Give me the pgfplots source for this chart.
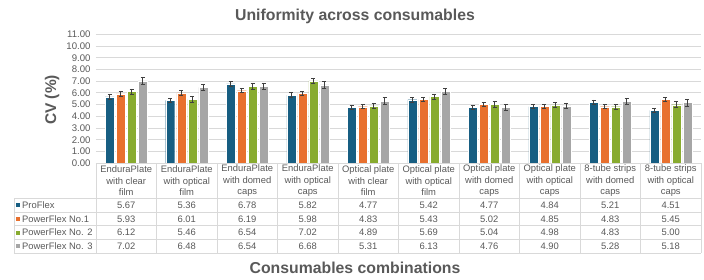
\documentclass[border=0pt]{standalone}
\usepackage{pgfplots}
\pgfplotsset{compat=1.18}
\usepackage{pgfplotstable}
\usepackage{fontspec}
\setmainfont{Liberation Sans}
\definecolor{cPF}{HTML}{175E82}
\definecolor{cP1}{HTML}{E8702E}
\definecolor{cP2}{HTML}{88AB2F}
\definecolor{cP3}{HTML}{A6A6A6}
\definecolor{txt}{HTML}{595959}
\definecolor{grd}{HTML}{D9D9D9}
\definecolor{errc}{HTML}{404040}

\pgfplotstableread{
x pf epf p1 ep1 p2 ep2 p3 ep3
0 5.67 0.18 5.93 0.18 6.12 0.22 7.02 0.28
1 5.36 0.20 6.01 0.18 5.46 0.25 6.48 0.28
2 6.78 0.20 6.19 0.18 6.54 0.25 6.54 0.25
3 5.82 0.20 5.98 0.18 7.02 0.22 6.68 0.28
4 4.77 0.20 4.83 0.18 4.89 0.22 5.31 0.30
5 5.42 0.20 5.43 0.18 5.69 0.22 6.13 0.25
6 4.77 0.18 5.02 0.18 5.04 0.25 4.76 0.28
7 4.84 0.18 4.85 0.15 4.98 0.22 4.90 0.25
8 5.21 0.20 4.83 0.18 4.83 0.22 5.28 0.25
9 4.51 0.20 5.45 0.15 5.00 0.25 5.18 0.30
}\data

\newcommand{\tfont}{\fontsize{9.4}{11.7}\selectfont}

\begin{document}
\begin{tikzpicture}
\path[use as bounding box] (-96pt,-116.7pt) rectangle (608pt,163.3pt);
\begin{axis}[
  at={(0,0)}, anchor=south west,
  scale only axis, width=605pt, height=129pt,
  xmin=-0.5, xmax=9.5, ymin=0, ymax=11,
  ytick={0,1,...,11}, xtick=\empty,
  /pgf/number format/fixed, /pgf/number format/fixed zerofill, /pgf/number format/precision=2,
  /pgf/number format/assume math mode=true,
  tick label style={font=\fontsize{9.6}{10}\selectfont, text=txt},
  yticklabel style={xshift=-2pt},
  axis line style={draw=none},
  major tick length=0pt,
  ymajorgrids, grid style={grd, line width=0.9pt},
  ybar=2pt, bar width=9pt,
  clip=false,
  error bars/error bar style={errc, line width=0.7pt},
  error bars/error mark options={errc, rotate=90, mark size=2.2pt, line width=0.7pt},
]
\addplot[fill=cPF, draw=white, line width=0.3pt, error bars/.cd, y dir=both, y explicit] table[x=x, y=pf, y error=epf]{\data};
\addplot[fill=cP1, draw=white, line width=0.3pt, error bars/.cd, y dir=both, y explicit] table[x=x, y=p1, y error=ep1]{\data};
\addplot[fill=cP2, draw=white, line width=0.3pt, error bars/.cd, y dir=both, y explicit] table[x=x, y=p2, y error=ep2]{\data};
\addplot[fill=cP3, draw=white, line width=0.3pt, error bars/.cd, y dir=both, y explicit] table[x=x, y=p3, y error=ep3]{\data};
\end{axis}

% title and labels
\node[font=\bfseries\fontsize{15.8}{17}\selectfont, text=txt] at (259pt,147.3pt) {Uniformity across consumables};
\node[font=\bfseries\fontsize{15.8}{17}\selectfont, text=txt] at (259pt,-105pt) {Consumables combinations};
\node[font=\bfseries\fontsize{15.5}{17}\selectfont, text=txt, rotate=90] at (-44pt,63.3pt) {CV (\%)};

% table grid
\foreach \i in {0,...,10} \draw[grd, line width=0.8pt] (\i*60.5pt,0pt) -- (\i*60.5pt,-89.8pt);
\draw[grd, line width=0.8pt] (0pt,0pt) -- (605pt,0pt);
\foreach \yy in {-35,-48.7,-62.4,-76.1,-89.8} \draw[grd, line width=0.8pt] (-82pt,\yy pt) -- (605pt,\yy pt);
\draw[grd, line width=0.8pt] (-82pt,-35pt) -- (-82pt,-89.8pt);

% header
\foreach \t [count=\i from 0] in {
  {EnduraPlate\\with clear\\film},
  {EnduraPlate\\with optical\\film},
  {EnduraPlate\\with domed\\caps},
  {EnduraPlate\\with optical\\caps},
  {Optical plate\\with clear\\film},
  {Optical plate\\with optical\\film},
  {Optical plate\\with domed\\caps},
  {Optical plate\\with optical\\caps},
  {8-tube strips\\with domed\\caps},
  {8-tube strips\\with optical\\caps}}
  \node[align=center, font=\tfont, text=txt, inner sep=0pt] at ({(\i+0.5)*60.5pt},-17.5pt) {\t};

% rows
\foreach \v [count=\i from 0] in {5.67,5.36,6.78,5.82,4.77,5.42,4.77,4.84,5.21,4.51}
  \node[font=\tfont, text=txt, inner sep=0pt] at ({(\i+0.5)*60.5pt},-41.85pt) {\v};
\foreach \v [count=\i from 0] in {5.93,6.01,6.19,5.98,4.83,5.43,5.02,4.85,4.83,5.45}
  \node[font=\tfont, text=txt, inner sep=0pt] at ({(\i+0.5)*60.5pt},-55.55pt) {\v};
\foreach \v [count=\i from 0] in {6.12,5.46,6.54,7.02,4.89,5.69,5.04,4.98,4.83,5.00}
  \node[font=\tfont, text=txt, inner sep=0pt] at ({(\i+0.5)*60.5pt},-69.25pt) {\v};
\foreach \v [count=\i from 0] in {7.02,6.48,6.54,6.68,5.31,6.13,4.76,4.90,5.28,5.18}
  \node[font=\tfont, text=txt, inner sep=0pt] at ({(\i+0.5)*60.5pt},-82.95pt) {\v};

% row labels
\foreach \c/\l/\yy in {cPF/ProFlex/-41.85, cP1/PowerFlex No.1/-55.55, cP2/PowerFlex No. 2/-69.25, cP3/PowerFlex No. 3/-82.95} {
  \fill[\c] (-79.5pt,\yy pt-2pt) rectangle (-75.5pt,\yy pt+2pt);
  \node[anchor=west, font=\tfont, text=txt, inner sep=0pt] at (-74pt,\yy pt) {\l};
}
\end{tikzpicture}
\end{document}
